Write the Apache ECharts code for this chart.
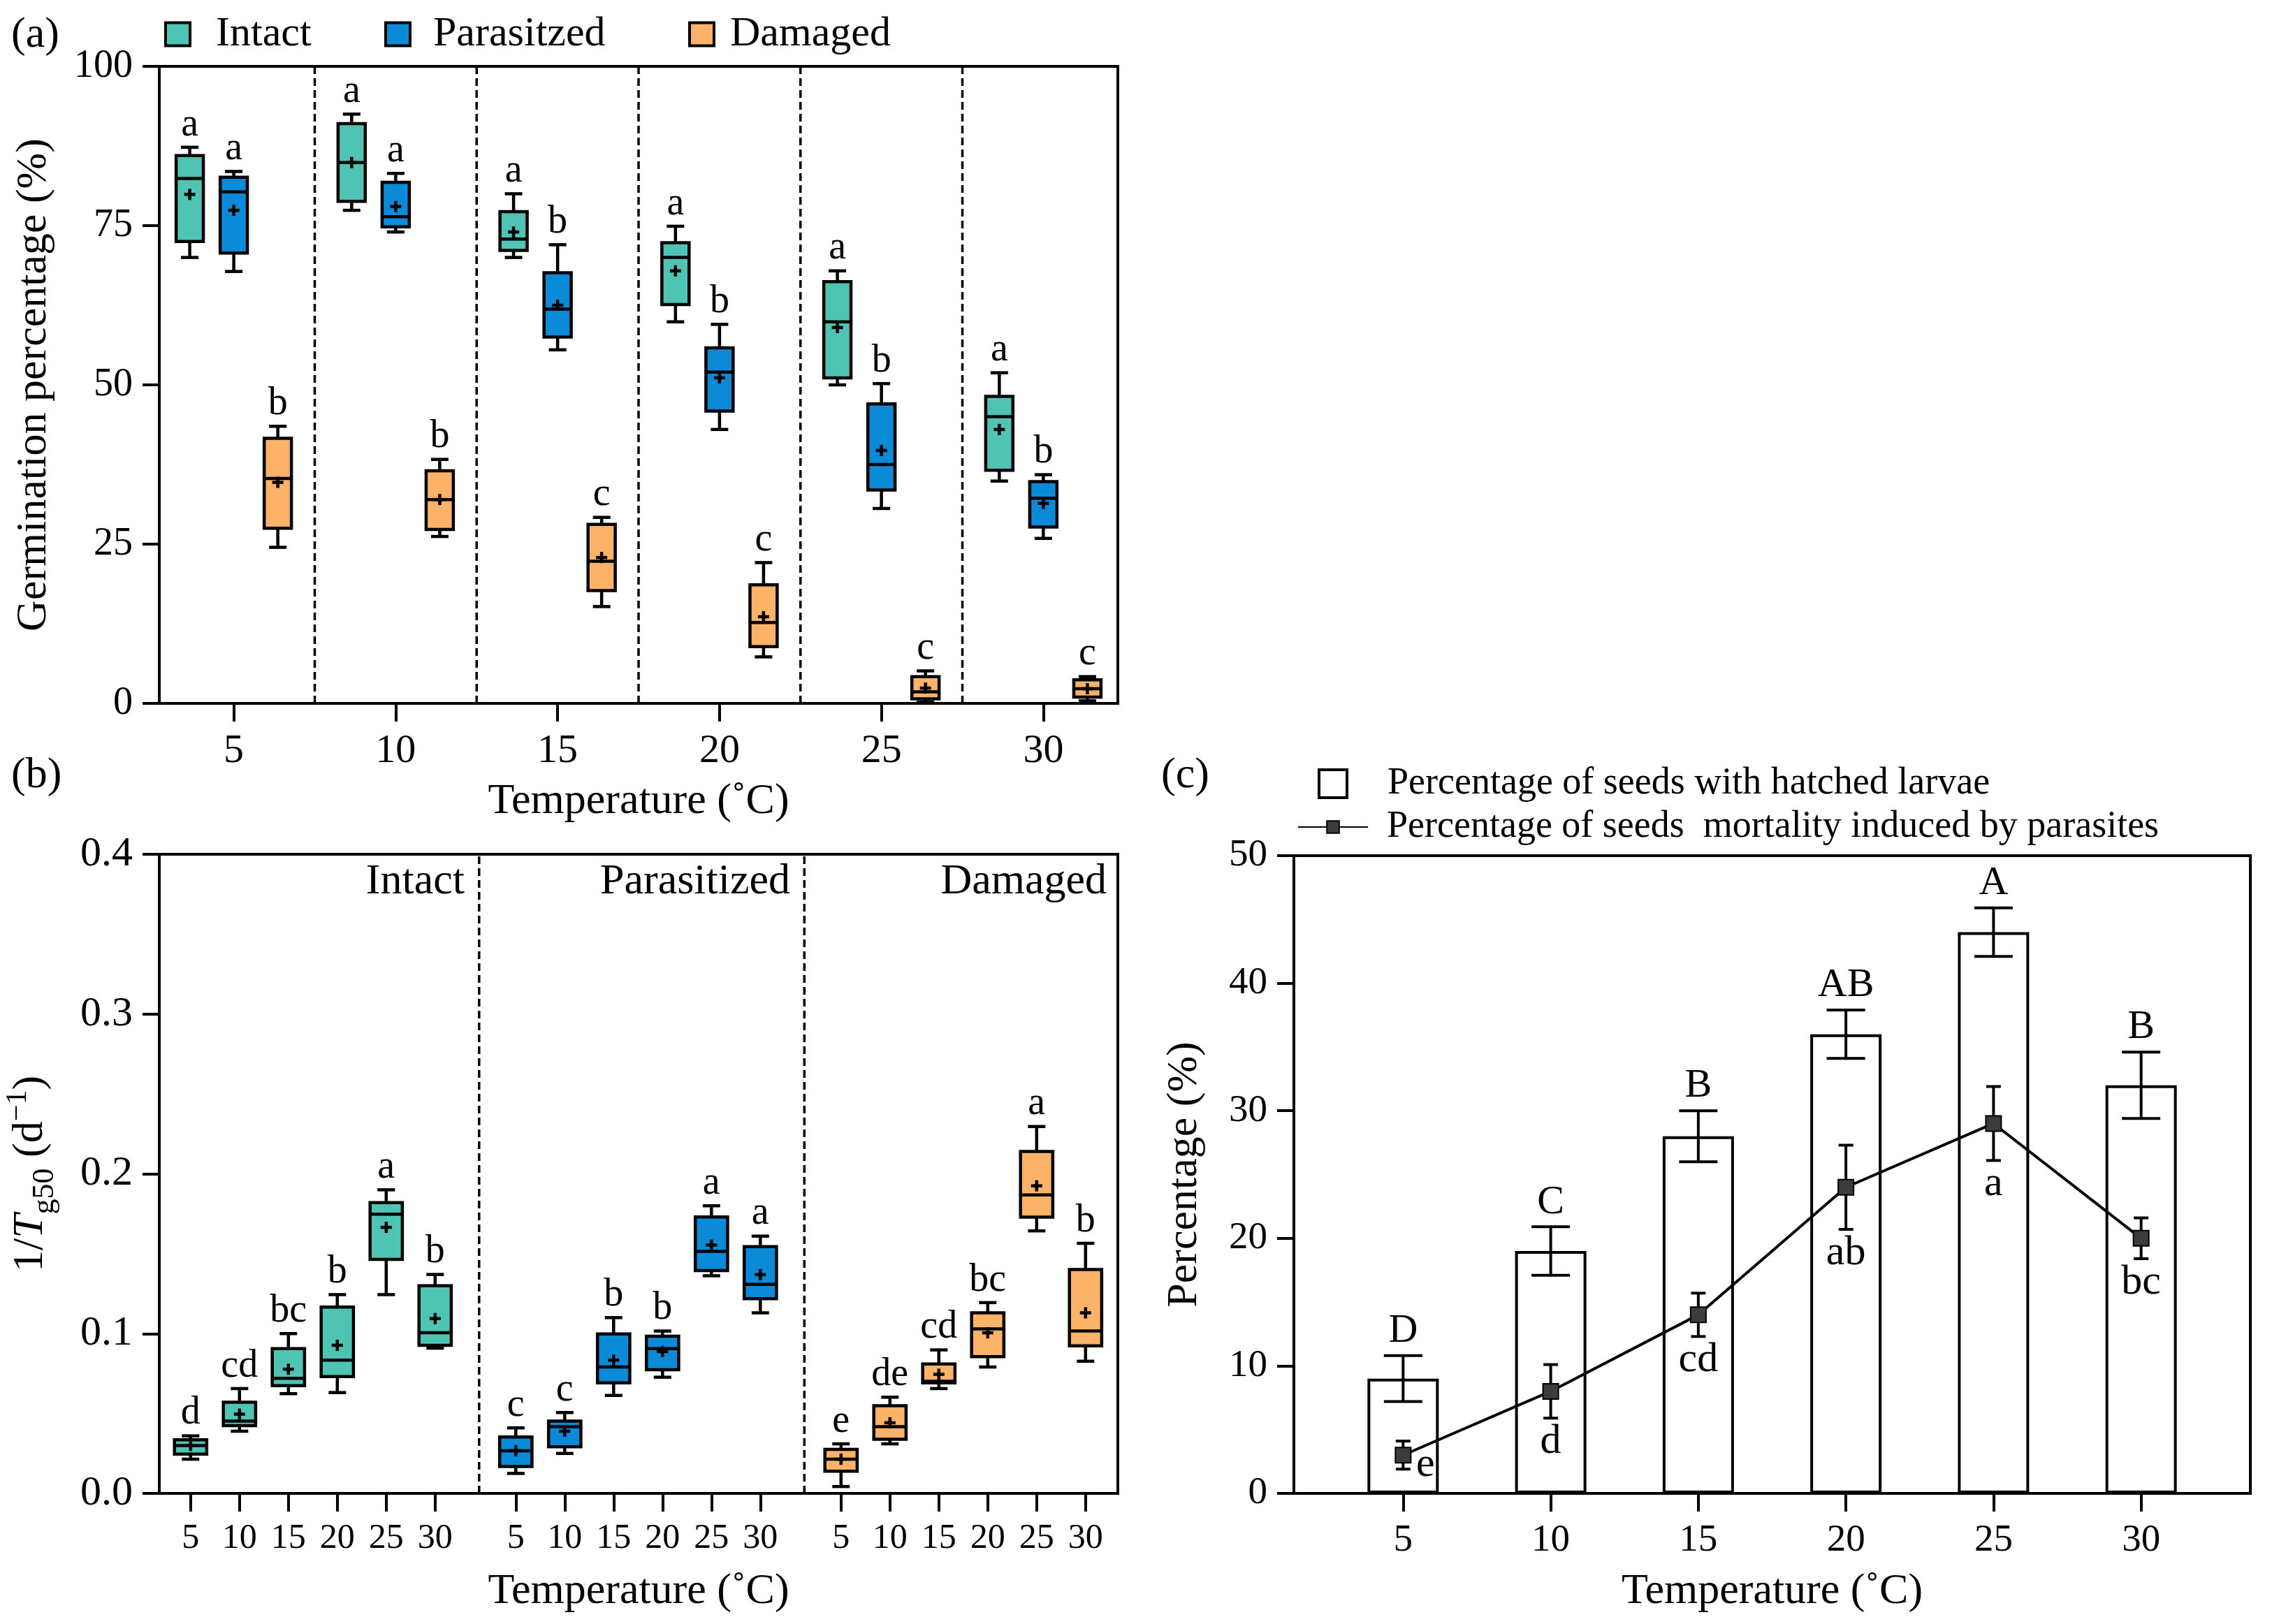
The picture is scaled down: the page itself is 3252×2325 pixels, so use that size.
<!DOCTYPE html>
<html>
<head>
<meta charset="utf-8">
<title>Germination, 1/Tg50 and parasite mortality</title>
<script src="https://cdn.jsdelivr.net/npm/echarts@6.0.0/dist/echarts.min.js"></script>
<style>
  html, body { margin: 0; padding: 0; background: #fff; }
  #chart { width: 3252px; height: 2325px; }
</style>
</head>
<body>
<div id="chart"></div>
<script>
// ---- data ----
const temps = [5, 10, 15, 20, 25, 30];
const groupNames = ['Intact', 'Parasitzed', 'Damaged'];
const sectionNames = ['Intact', 'Parasitized', 'Damaged'];

// (a) germination percentage: [min, q1, median, q3, max]
const germIntact = [[70.0, 72.5, 82.4, 86.0, 87.3], [77.4, 78.8, 84.9, 91.0, 92.5], [70.0, 71.1, 72.9, 77.2, 80.0],
                    [59.9, 62.6, 70.0, 72.3, 74.9], [50.0, 51.1, 59.9, 66.2, 67.9], [34.9, 36.6, 45.0, 48.2, 51.9]];
const germIntactMean = [79.9, 84.9, 74.0, 67.9, 59.0, 43.0];
const germIntactLetters = ['a', 'a', 'a', 'a', 'a', 'a'];
const germPara = [[67.8, 70.7, 80.3, 82.6, 83.5], [74.0, 74.8, 76.4, 81.8, 83.2], [55.5, 57.5, 61.9, 67.6, 72.0],
                  [43.0, 45.9, 52.0, 55.8, 59.5], [30.6, 33.5, 37.5, 47.0, 50.2], [25.9, 27.7, 32.2, 34.8, 35.9]];
const germParaMean = [77.4, 78.0, 62.5, 51.1, 39.7, 31.4];
const germParaLetters = ['a', 'a', 'b', 'b', 'b', 'b'];
const germDam = [[24.5, 27.5, 35.3, 41.6, 43.5], [26.2, 27.3, 32.0, 36.5, 38.3], [15.2, 17.7, 22.3, 28.1, 29.2],
                 [7.3, 8.9, 12.7, 18.6, 22.1], [0.2, 0.7, 1.8, 4.2, 5.1], [0.4, 1.0, 2.3, 3.7, 4.2]];
const germDamMean = [34.7, 32.0, 22.9, 13.6, 2.4, 2.3];
const germDamLetters = ['b', 'b', 'c', 'c', 'c', 'c'];

// (b) 1/Tg50 (d-1): [min, q1, median, q3, max]
const rateIntact = [[0.0214, 0.0246, 0.030, 0.0335, 0.036], [0.0389, 0.0424, 0.0453, 0.057, 0.0656],
                    [0.0624, 0.0674, 0.072, 0.0906, 0.100], [0.0631, 0.0731, 0.0834, 0.1166, 0.1244],
                    [0.1244, 0.1465, 0.1747, 0.182, 0.190], [0.0909, 0.0927, 0.1005, 0.130, 0.137]];
const rateIntactMean = [0.030, 0.0496, 0.0777, 0.0927, 0.1665, 0.1094];
const rateIntactLetters = ['d', 'cd', 'bc', 'b', 'a', 'b'];
const ratePara = [[0.0125, 0.0168, 0.0267, 0.0353, 0.041], [0.025, 0.0292, 0.0417, 0.0453, 0.0506],
                  [0.0613, 0.0692, 0.0791, 0.0998, 0.110], [0.0727, 0.0774, 0.0906, 0.0984, 0.1016],
                  [0.1362, 0.1394, 0.1515, 0.173, 0.180], [0.113, 0.1219, 0.1308, 0.1544, 0.161]];
const rateParaMean = [0.0267, 0.0389, 0.0834, 0.0888, 0.1554, 0.1369];
const rateParaLetters = ['c', 'c', 'b', 'b', 'a', 'a'];
const rateDam = [[0.0043, 0.0139, 0.0214, 0.0275, 0.031], [0.031, 0.0339, 0.0417, 0.0549, 0.0602],
                 [0.0656, 0.0692, 0.0702, 0.081, 0.0898], [0.0791, 0.0856, 0.103, 0.113, 0.1194],
                 [0.1643, 0.1729, 0.1868, 0.214, 0.2296], [0.0827, 0.0923, 0.1016, 0.1401, 0.1565]];
const rateDamMean = [0.0214, 0.0442, 0.0745, 0.1005, 0.1925, 0.113];
const rateDamLetters = ['e', 'de', 'cd', 'bc', 'a', 'b'];

// (c) percentages
const hatchName = 'Percentage of seeds with hatched larvae';
const mortName = 'Percentage of seeds  mortality induced by parasites';
const hatched = [9, 19, 28, 36, 44, 32];
const hatchedErr = [1.8, 1.9, 2.0, 1.9, 1.9, 2.6];
const hatchedLetters = ['D', 'C', 'B', 'AB', 'A', 'B'];
const mortality = [3, 8, 14, 24, 29, 20];
const mortalityErr = [1.1, 2.1, 1.7, 3.3, 2.9, 1.6];
const mortalityLetters = ['e', 'd', 'cd', 'ab', 'a', 'bc'];

// ---- layout ----
const FONT = '"Liberation Serif", "Times New Roman", serif';
const COLORS = ['#4FC4B4', '#0B8AD8', '#FDB367'];
const A_OFFSET = 1.36, A_BOX = 0.84;
const GROUP_STEP = 6.65, B_BOX = 0.66;

const germX = [-A_OFFSET, 0, A_OFFSET].map(d => temps.map(t => t + d));
const rateX = [0, 1, 2].map(g => temps.map((t, i) => +(g * GROUP_STEP + i).toFixed(3)));
const rateTicks = [].concat(...rateX);
const sepA = temps.slice(0, 5).map(t => t + 2.5);
const sepB = [GROUP_STEP - 0.75, 2 * GROUP_STEP - 0.75];

var chartDom = document.getElementById('chart');
var myChart = echarts.init(chartDom);

function boxSeries(name, color, axis, xs, stats, means, letters, boxW, capPx, fontSize) {
    return {
        name: name,
        type: 'custom',
        xAxisIndex: axis,
        yAxisIndex: axis,
        z: 5,
        itemStyle: { color: color },
        data: xs.map((x, i) => [x].concat(stats[i], [means[i]])),
        renderItem: function (params, api) {
            const x = api.value(0);
            const c = v => api.coord([x, v]);
            const lo = c(api.value(1)), q1 = c(api.value(2)), med = c(api.value(3));
            const q3 = c(api.value(4)), hi = c(api.value(5)), mean = c(api.value(6));
            const cx = lo[0];
            const half = api.size([boxW, 0])[0] / 2;
            const cap = capPx / 2;
            const s = { stroke: '#000', lineWidth: 4.5 };
            const m = { stroke: '#000', lineWidth: 4.5 };
            return {
                type: 'group',
                children: [
                    { type: 'line', shape: { x1: cx, y1: hi[1], x2: cx, y2: q3[1] }, style: s },
                    { type: 'line', shape: { x1: cx - cap, y1: hi[1], x2: cx + cap, y2: hi[1] }, style: s },
                    { type: 'line', shape: { x1: cx, y1: lo[1], x2: cx, y2: q1[1] }, style: s },
                    { type: 'line', shape: { x1: cx - cap, y1: lo[1], x2: cx + cap, y2: lo[1] }, style: s },
                    { type: 'rect', shape: { x: cx - half, y: q3[1], width: 2 * half, height: q1[1] - q3[1] },
                      style: { fill: color, stroke: '#000', lineWidth: 4.5 } },
                    { type: 'line', shape: { x1: cx - half, y1: med[1], x2: cx + half, y2: med[1] }, style: s },
                    { type: 'line', shape: { x1: cx - 8, y1: mean[1], x2: cx + 8, y2: mean[1] }, style: m },
                    { type: 'line', shape: { x1: cx, y1: mean[1] - 8, x2: cx, y2: mean[1] + 8 }, style: m },
                    { type: 'text', x: cx, y: hi[1] - 4,
                      style: { text: letters[params.dataIndex], fill: '#000', fontSize: fontSize, fontFamily: FONT,
                               align: 'center', verticalAlign: 'bottom' } }
                ]
            };
        }
    };
}

function sepSeries(axis, xs, yMin, yMax) {
    return {
        type: 'custom',
        xAxisIndex: axis,
        yAxisIndex: axis,
        silent: true,
        z: 1,
        data: xs.map(x => [x, yMin, yMax]),
        renderItem: function (params, api) {
            const p1 = api.coord([api.value(0), api.value(1)]);
            const p2 = api.coord([api.value(0), api.value(2)]);
            return { type: 'line', shape: { x1: p1[0], y1: p1[1], x2: p2[0], y2: p2[1] },
                     style: { stroke: '#000', lineWidth: 3.5, lineDash: [11, 6] } };
        }
    };
}

function errSeries(xs, vals, errs, letters, capPx, above) {
    return {
        type: 'custom',
        xAxisIndex: 2,
        yAxisIndex: 2,
        z: above ? 4 : 5,
        data: xs.map((x, i) => [x, vals[i], errs[i]]),
        renderItem: function (params, api) {
            const x = api.value(0), v = api.value(1), e = api.value(2);
            const top = api.coord([x, v + e]), bot = api.coord([x, v - e]);
            const cx = top[0], h = capPx / 2;
            const s = { stroke: '#000', lineWidth: 4 };
            let tx = cx, ty, va;
            if (above) { ty = top[1] - 6; va = 'bottom'; }
            else if (v - e < 3) { tx = cx + 32; ty = bot[1] - 36; va = 'top'; }
            else { ty = bot[1] + 4; va = 'top'; }
            return {
                type: 'group',
                children: [
                    { type: 'line', shape: { x1: cx, y1: top[1], x2: cx, y2: bot[1] }, style: s },
                    { type: 'line', shape: { x1: cx - h, y1: top[1], x2: cx + h, y2: top[1] }, style: s },
                    { type: 'line', shape: { x1: cx - h, y1: bot[1], x2: cx + h, y2: bot[1] }, style: s },
                    { type: 'text', x: tx, y: ty,
                      style: { text: letters[params.dataIndex], fill: '#000', fontSize: above ? 58 : 60,
                               fontFamily: FONT, align: 'center', verticalAlign: va } }
                ]
            };
        }
    };
}

function xAxisOf(grid, min, max, ticks, fontSize, formatter) {
    return {
        type: 'value', gridIndex: grid, min: min, max: max,
        axisLine: { show: true, onZero: false, lineStyle: { color: '#000', width: 4 } },
        axisTick: { show: true, length: 26, customValues: ticks, lineStyle: { color: '#000', width: 4 } },
        axisLabel: { customValues: ticks, color: '#000', fontFamily: FONT, fontSize: fontSize, margin: 40, formatter: formatter },
        splitLine: { show: false },
        name: 'Temperature (˚C)', nameLocation: 'middle', nameGap: 110,
        nameTextStyle: { color: '#000', fontFamily: FONT, fontSize: 62 }
    };
}

function yAxisOf(grid, min, max, interval, fontSize, name, nameGap, formatter, rich) {
    return {
        type: 'value', gridIndex: grid, min: min, max: max, interval: interval,
        axisLine: { show: true, onZero: false, lineStyle: { color: '#000', width: 4 } },
        axisTick: { show: true, length: 24, lineStyle: { color: '#000', width: 4 } },
        axisLabel: { color: '#000', fontFamily: FONT, fontSize: fontSize, margin: 38, formatter: formatter },
        splitLine: { show: false },
        name: name, nameLocation: 'middle', nameGap: nameGap, nameRotate: 90,
        nameTextStyle: { color: '#000', fontFamily: FONT, fontSize: 62, rich: rich }
    };
}

const legendText = size => ({ color: '#000', fontFamily: FONT, fontSize: size, lineHeight: size });
const gridBox = { show: true, borderColor: '#000', borderWidth: 4, backgroundColor: 'transparent' };

const rateRich = {
    n: { fontFamily: FONT, fontSize: 62, color: '#000' },
    i: { fontFamily: FONT, fontSize: 62, fontStyle: 'italic', color: '#000' },
    s: { fontFamily: FONT, fontSize: 44, color: '#000', padding: [40, 0, 0, 0] },
    p: { fontFamily: FONT, fontSize: 42, color: '#000', padding: [0, 0, 36, 0] }
};

var option = {
    animation: false,
    backgroundColor: '#fff',
    textStyle: { fontFamily: FONT },
    grid: [
        Object.assign({ left: 228, top: 95, width: 1372, height: 912 }, gridBox),
        Object.assign({ left: 228, top: 1223, width: 1372, height: 915 }, gridBox),
        Object.assign({ left: 1852, top: 1225, width: 1369, height: 913 }, gridBox)
    ],
    xAxis: [
        xAxisOf(0, 2.7, 32.3, temps, 58),
        xAxisOf(1, -0.64, 18.96, rateTicks, 50, function (v) {
            const k = rateTicks.findIndex(p => Math.abs(p - v) < 1e-6);
            return k >= 0 ? String(temps[k % 6]) : '';
        }),
        xAxisOf(2, 1.3, 33.7, temps, 55)
    ],
    yAxis: [
        yAxisOf(0, 0, 100, 25, 56, 'Germination percentage (%)', 148),
        yAxisOf(1, 0, 0.4, 0.1, 60, '{n|1/}{i|T}{s|g50}{n| (d}{p|−1}{n|)}', 142, v => v.toFixed(1), rateRich),
        yAxisOf(2, 0, 50, 10, 55, 'Percentage (%)', 125)
    ],
    legend: [
        { data: [{ name: groupNames[0], icon: 'rect', itemStyle: { color: COLORS[0], borderColor: '#000', borderWidth: 4 } }],
          left: 230, top: 14, itemWidth: 35, itemHeight: 33, selectedMode: false,
          textStyle: Object.assign({ padding: [0, 0, 0, 32] }, legendText(60)) },
        { data: [{ name: groupNames[1], icon: 'rect', itemStyle: { color: COLORS[1], borderColor: '#000', borderWidth: 4 } }],
          left: 545, top: 14, itemWidth: 35, itemHeight: 33, selectedMode: false,
          textStyle: Object.assign({ padding: [0, 0, 0, 28] }, legendText(60)) },
        { data: [{ name: groupNames[2], icon: 'rect', itemStyle: { color: COLORS[2], borderColor: '#000', borderWidth: 4 } }],
          left: 980, top: 14, itemWidth: 35, itemHeight: 33, selectedMode: false,
          textStyle: Object.assign({ padding: [0, 0, 0, 18] }, legendText(60)) },
        { data: [{ name: hatchName, icon: 'rect', itemStyle: { color: '#fff', borderColor: '#000', borderWidth: 4 } }],
          left: 1881, top: 1090, itemWidth: 40, itemHeight: 40, selectedMode: false,
          textStyle: Object.assign({ padding: [0, 0, 0, 53] }, legendText(54)) },
        { data: [{ name: mortName }],
          left: 1852, top: 1152, itemWidth: 100, itemHeight: 22, selectedMode: false,
          textStyle: Object.assign({ padding: [0, 0, 0, 22] }, legendText(54)) }
    ],
    graphic: [
        { type: 'text', left: 16, top: 20, style: { text: '(a)', fontFamily: FONT, fontSize: 62, fill: '#000' } },
        { type: 'text', left: 16, top: 1080, style: { text: '(b)', fontFamily: FONT, fontSize: 62, fill: '#000' } },
        { type: 'text', left: 1662, top: 1080, style: { text: '(c)', fontFamily: FONT, fontSize: 62, fill: '#000' } },
        { type: 'text', right: 3252 - 665, top: 1232, style: { text: sectionNames[0], fontFamily: FONT, fontSize: 62, fill: '#000' } },
        { type: 'text', right: 3252 - 1131, top: 1232, style: { text: sectionNames[1], fontFamily: FONT, fontSize: 62, fill: '#000' } },
        { type: 'text', right: 3252 - 1584, top: 1232, style: { text: sectionNames[2], fontFamily: FONT, fontSize: 62, fill: '#000' } }
    ],
    series: [
        sepSeries(0, sepA, 0, 100),
        boxSeries(groupNames[0], COLORS[0], 0, germX[0], germIntact, germIntactMean, germIntactLetters, A_BOX, 25, 56),
        boxSeries(groupNames[1], COLORS[1], 0, germX[1], germPara, germParaMean, germParaLetters, A_BOX, 25, 56),
        boxSeries(groupNames[2], COLORS[2], 0, germX[2], germDam, germDamMean, germDamLetters, A_BOX, 25, 56),
        sepSeries(1, sepB, 0, 0.4),
        boxSeries('rate ' + sectionNames[0], COLORS[0], 1, rateX[0], rateIntact, rateIntactMean, rateIntactLetters, B_BOX, 25, 56),
        boxSeries('rate ' + sectionNames[1], COLORS[1], 1, rateX[1], ratePara, rateParaMean, rateParaLetters, B_BOX, 25, 56),
        boxSeries('rate ' + sectionNames[2], COLORS[2], 1, rateX[2], rateDam, rateDamMean, rateDamLetters, B_BOX, 25, 56),
        {
            name: hatchName, type: 'bar', xAxisIndex: 2, yAxisIndex: 2, z: 2,
            data: temps.map((t, i) => [t, hatched[i]]),
            barWidth: 102,
            itemStyle: { color: '#fff', borderColor: '#000', borderWidth: 4 }
        },
        errSeries(temps, hatched, hatchedErr, hatchedLetters, 55, true),
        errSeries(temps, mortality, mortalityErr, mortalityLetters, 21, false),
        {
            name: mortName, type: 'line', xAxisIndex: 2, yAxisIndex: 2, z: 6,
            data: temps.map((t, i) => [t, mortality[i]]),
            symbol: 'rect', symbolSize: 22,
            itemStyle: { color: '#3c3c3c', borderColor: '#000', borderWidth: 2 },
            lineStyle: { color: '#000', width: 4 }
        }
    ]
};

option && myChart.setOption(option);
</script>
</body>
</html>
